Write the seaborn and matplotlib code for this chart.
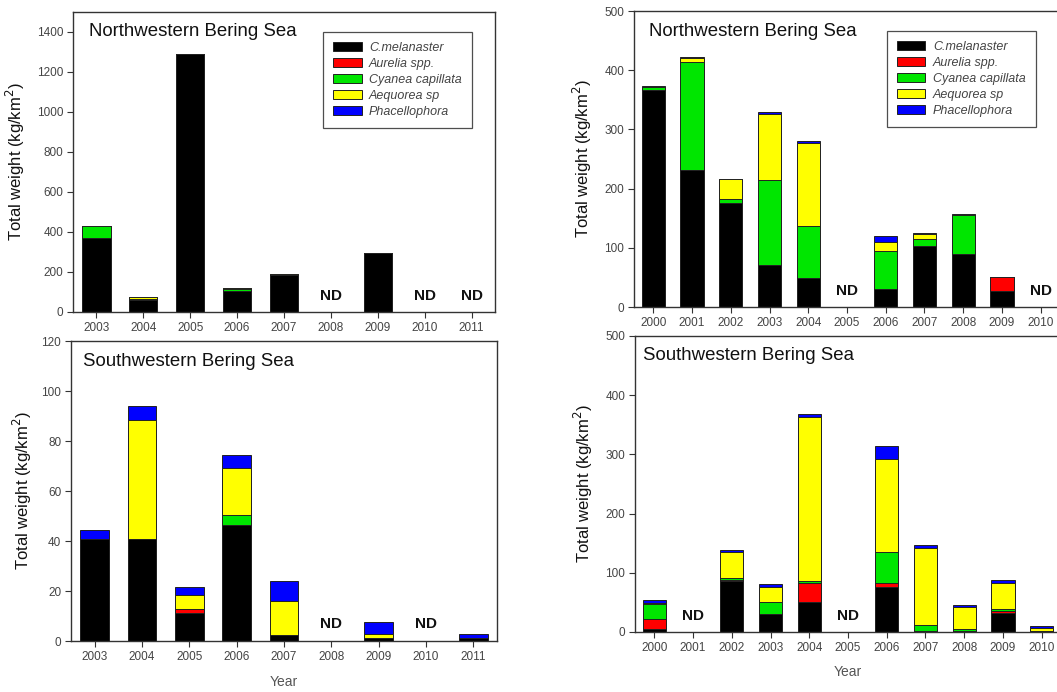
import numpy as np
import matplotlib
matplotlib.use("Agg")
import matplotlib.pyplot as plt
import matplotlib.transforms as mtransforms
from matplotlib.patches import Patch
import seaborn as sns

nan = np.nan

species = ["C.melanaster", "Aurelia spp.", "Cyanea capillata", "Aequorea sp", "Phacellophora"]
species_colors = ["#000000", "#ff0000", "#00e600", "#ffff00", "#0000ff"]

# ---- Left column: 2003-2011 ----
years_a = ["2003", "2004", "2005", "2006", "2007", "2008", "2009", "2010", "2011"]

# Northwestern Bering Sea (left)
nw_a_cmel = [370, 62, 1290, 103, 183, nan, 295, nan, nan]
nw_a_aur  = [0, 0, 0, 0, 0, nan, 0, nan, nan]
nw_a_cyan = [60, 2, 0, 10, 0, nan, 0, nan, nan]
nw_a_aeq  = [0, 11, 0, 5, 7, nan, 0, nan, nan]
nw_a_phac = [0, 1, 0, 1, 1, nan, 1, nan, nan]
nw_a_nd = ["2008", "2010", "2011"]

# Southwestern Bering Sea (left)
sw_a_cmel = [40.7, 41.0, 11.2, 46.3, 2.3, nan, 1.3, nan, 1.2]
sw_a_aur  = [0, 0, 1.6, 0, 0, nan, 0, nan, 0]
sw_a_cyan = [0, 0, 0, 4.3, 0, nan, 0, nan, 0]
sw_a_aeq  = [0, 47.5, 5.5, 18.8, 13.6, nan, 1.6, nan, 0]
sw_a_phac = [3.9, 5.4, 3.2, 5.2, 8.0, nan, 4.6, nan, 1.5]
sw_a_nd = ["2008", "2010"]

# ---- Right column: 2000-2010 ----
years_b = ["2000", "2001", "2002", "2003", "2004", "2005", "2006", "2007", "2008", "2009", "2010"]

# Northwestern Bering Sea (right)
nw_b_cmel = [367, 231, 175, 71, 49.5, nan, 31, 103.5, 89, 27.5, nan]
nw_b_aur  = [0, 0, 0, 0, 0, nan, 0, 0, 0, 23.5, nan]
nw_b_cyan = [5, 183, 7, 143.5, 87, nan, 63.6, 12, 66, 0, nan]
nw_b_aeq  = [0, 7, 34, 112, 140, nan, 15.2, 7.5, 1, 0, nan]
nw_b_phac = [1.5, 0.5, 0.5, 3.5, 3.5, nan, 9.6, 1.5, 0.5, 0, nan]
nw_b_nd = ["2005", "2010"]

# Southwestern Bering Sea (right)
sw_b_cmel = [5.5, nan, 86, 30, 50, nan, 76.5, 1, 2, 32.5, 2]
sw_b_aur  = [16.5, nan, 1.5, 0, 33, nan, 6, 0, 0, 3.5, 0]
sw_b_cyan = [25, nan, 3, 21.5, 2.5, nan, 52.5, 10, 3.5, 3, 0]
sw_b_aeq  = [2.5, nan, 44, 24.5, 278.5, nan, 157.5, 130.5, 36.5, 44, 4.5]
sw_b_phac = [4, nan, 4.5, 5, 5, nan, 21, 6, 3.5, 5.5, 4]
sw_b_nd = ["2001", "2005"]

titles = ["Northwestern Bering Sea", "Southwestern Bering Sea"]
ylabel = "Total weight (kg/km$^2$)"

sns.set_theme(style="ticks")
plt.rcParams["font.family"] = ["Liberation Sans", "DejaVu Sans"]
plt.rcParams["axes.edgecolor"] = "#333333"
plt.rcParams["axes.linewidth"] = 1.0

W, H = 1057, 692
fig = plt.figure(figsize=(W / 100, H / 100), dpi=100)


def px_axes(left, top, right, bottom):
    return fig.add_axes([left / W, 1 - bottom / H, (right - left) / W, (bottom - top) / H])


def draw_panel(ax, years, layers, nd, ymax, ystep, title, title_off, ylab_x,
               legend_pos=None, xlabel=None):
    arr = np.array(layers, dtype=float)
    cum = np.cumsum(arr, axis=0)
    for k in range(len(species) - 1, -1, -1):
        sns.barplot(x=years, y=cum[k], order=years, color=species_colors[k],
                    saturation=1, width=0.6, edgecolor="#222222", linewidth=0.7,
                    errorbar=None, ax=ax)
    n = len(years)
    ax.set_xlim(-0.5, n - 0.5)
    ax.set_ylim(0, ymax)
    ax.set_yticks(np.arange(0, ymax + 1e-9, ystep))
    ax.tick_params(axis="both", direction="out", length=4, width=0.8,
                   colors="#333333", labelcolor="#444444", labelsize=8.5, pad=3)
    for s in ax.spines.values():
        s.set_visible(True)
        s.set_color("#333333")
    ax.set_ylabel(ylabel, fontsize=12, color="#111111")
    ax.yaxis.set_label_coords(ylab_x, 0.5)
    if xlabel:
        ax.set_xlabel(xlabel, fontsize=10, color="#555555")
        ax.xaxis.set_label_coords(0.5, -0.113)
    else:
        ax.set_xlabel("")
    ax.annotate(title, xy=(0, 1), xycoords="axes fraction", xytext=title_off,
                textcoords="offset pixels", ha="left", va="center",
                fontsize=13.4, color="#111111")
    trans = mtransforms.blended_transform_factory(ax.transData, ax.transAxes)
    for y in nd:
        ax.text(years.index(y), 0.055, "ND", transform=trans, ha="center",
                va="center", fontsize=11, fontweight="bold", color="#111111")
    if legend_pos is not None:
        handles = [Patch(facecolor=c, edgecolor="#222222", linewidth=0.7)
                   for c in species_colors]
        leg = ax.legend(handles, species, loc="upper left", bbox_to_anchor=legend_pos,
                        frameon=True, fancybox=False, shadow=False,
                        prop={"style": "italic", "size": 9},
                        handlelength=2.3, handleheight=0.75, labelspacing=0.32,
                        handletextpad=0.6, borderpad=0.8, borderaxespad=0)
        leg.get_frame().set_edgecolor("#222222")
        leg.get_frame().set_linewidth(0.9)
        for t in leg.get_texts():
            t.set_color("#444444")


ax1 = px_axes(73, 12, 495, 312)
draw_panel(ax1, years_a, [nw_a_cmel, nw_a_aur, nw_a_cyan, nw_a_aeq, nw_a_phac],
           nw_a_nd, 1500, 200, titles[0], (16, -19), -0.110, legend_pos=(0.592, 0.933))

ax2 = px_axes(71, 341, 497, 641)
draw_panel(ax2, years_a, [sw_a_cmel, sw_a_aur, sw_a_cyan, sw_a_aeq, sw_a_phac],
           sw_a_nd, 120, 20, titles[1], (12, -21), -0.088, xlabel="Year")

ax3 = px_axes(634, 11, 1060, 307)
draw_panel(ax3, years_b, [nw_b_cmel, nw_b_aur, nw_b_cyan, nw_b_aeq, nw_b_phac],
           nw_b_nd, 500, 100, titles[0], (15, -20), -0.095, legend_pos=(0.593, 0.932))

ax4 = px_axes(635, 336, 1061, 632)
draw_panel(ax4, years_b, [sw_b_cmel, sw_b_aur, sw_b_cyan, sw_b_aeq, sw_b_phac],
           sw_b_nd, 500, 100, titles[1], (8, -20), -0.093, xlabel="Year")

fig.savefig("out.png", dpi=100, facecolor="white")
